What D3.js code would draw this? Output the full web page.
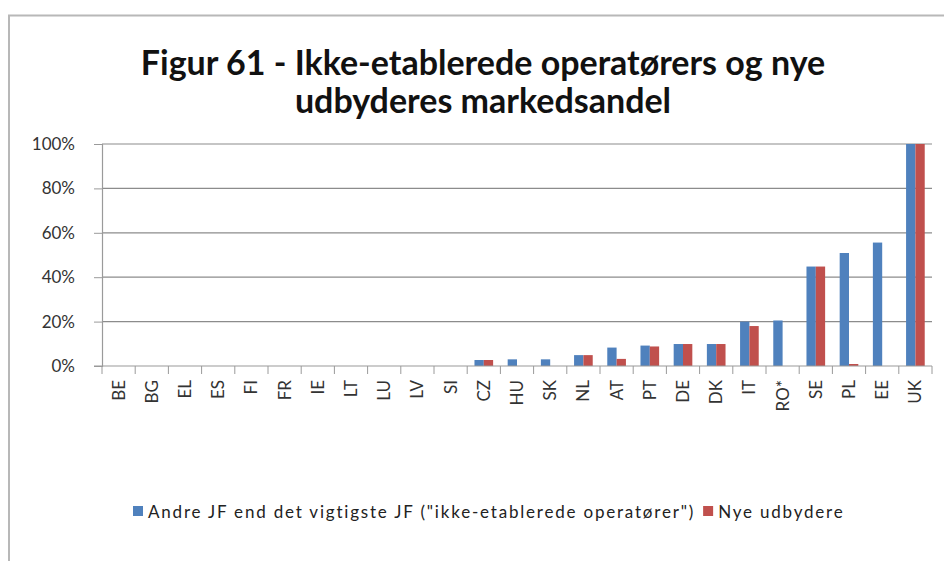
<!DOCTYPE html>
<html>
<head>
<meta charset="utf-8">
<script src="https://cdn.jsdelivr.net/npm/d3@7"></script>
<style>
  body { margin: 0; background: #fff; }
  text { font-family: Lato, "Open Sans", sans-serif; }
</style>
</head>
<body>
<div id="chart"></div>
<script>
const countries = ["BE","BG","EL","ES","FI","FR","IE","LT","LU","LV","SI","CZ","HU","SK","NL","AT","PT","DE","DK","IT","RO*","SE","PL","EE","UK"];
const andreJF = [0,0,0,0,0,0,0,0,0,0,0,2.7,3,3,4.9,8.3,9.2,9.9,9.9,20,20.5,44.8,50.9,55.6,100];
const nyeUdbydere = [0,0,0,0,0,0,0,0,0,0,0,2.7,0,0,4.9,3.2,8.8,9.9,9.9,18,0,44.8,0.9,0,100];
const seriesNames = ["Andre JF end det vigtigste JF (\"ikke-etablerede operatører\")", "Nye udbydere"];
const colors = ["#4F81BD", "#C0504D"];
const yTicks = [0, 20, 40, 60, 80, 100];
const titleLines = ["Figur 61 - Ikke-etablerede operatørers og nye", "udbyderes markedsandel"];

const width = 944, height = 561;
const margin = { top: 144, right: 12, bottom: 195, left: 102 };
const innerW = width - margin.left - margin.right;
const innerH = height - margin.top - margin.bottom;

const svg = d3.select("#chart").append("svg")
  .attr("width", width)
  .attr("height", height);

// chart frame
svg.append("path")
  .attr("d", `M9,${height + 5} V15.5 H${width + 5}`)
  .attr("fill", "none")
  .attr("stroke", "#b8b8b8")
  .attr("stroke-width", 2);

// title
svg.append("g").selectAll("text")
  .data(titleLines)
  .join("text")
    .attr("x", 483)
    .attr("y", (d, i) => 75 + i * 38)
    .attr("text-anchor", "middle")
    .attr("font-size", 34)
    .attr("font-weight", "bold")
    .attr("fill", "#111")
    .text(d => d);

const g = svg.append("g")
  .attr("transform", `translate(${margin.left}, ${margin.top})`);

const x0 = d3.scaleBand()
  .domain(countries)
  .range([0, innerW]);

const x1 = d3.scaleBand()
  .domain([0, 1])
  .range([0, x0.bandwidth()])
  .paddingOuter(0.78);

const y = d3.scaleLinear()
  .domain([0, 100])
  .range([innerH, 0]);

// gridlines
g.append("g")
  .selectAll("line")
  .data(yTicks.filter(d => d > 0))
  .join("line")
    .attr("x1", 0)
    .attr("x2", innerW)
    .attr("y1", d => y(d))
    .attr("y2", d => y(d))
    .attr("stroke", "#8c8c8c")
    .attr("stroke-width", 1.2);

// y axis
const yAxis = g.append("g")
  .call(d3.axisLeft(y).tickValues(yTicks).tickFormat(d => d + "%").tickSize(8).tickPadding(19));
yAxis.select(".domain").attr("stroke", "#9a9a9a").attr("stroke-width", 1.2);
yAxis.selectAll(".tick line").attr("stroke", "#9a9a9a");
yAxis.selectAll("text")
  .attr("font-size", 17)
  .attr("fill", "#333")
  .style("font-family", "Lato, 'Open Sans', sans-serif");

// bars
const rows = countries.map((c, i) => ({ c, vals: [andreJF[i], nyeUdbydere[i]] }));
g.append("g")
  .selectAll("g")
  .data(rows)
  .join("g")
    .attr("transform", d => `translate(${x0(d.c)},0)`)
  .selectAll("rect")
  .data(d => d.vals.map((v, k) => ({ k, v })))
  .join("rect")
    .attr("x", d => x1(d.k))
    .attr("width", x1.bandwidth())
    .attr("y", d => y(d.v))
    .attr("height", d => innerH - y(d.v))
    .attr("fill", d => colors[d.k]);

// x axis: ticks at category boundaries
const xa = g.append("g").attr("transform", `translate(0, ${innerH})`);
xa.append("line")
  .attr("x1", -8).attr("x2", innerW)
  .attr("stroke", "#9a9a9a").attr("stroke-width", 1.2);
xa.selectAll(".bt")
  .data(countries.concat(["_end"]))
  .join("line")
    .attr("class", "bt")
    .attr("x1", (d, i) => i * x0.step())
    .attr("x2", (d, i) => i * x0.step())
    .attr("y1", 0).attr("y2", 8)
    .attr("stroke", "#9a9a9a");
xa.selectAll("text")
  .data(countries)
  .join("text")
    .attr("transform", d => `translate(${x0(d) + x0.bandwidth() / 2 + 6}, 14) rotate(-90)`)
    .attr("text-anchor", "end")
    .attr("font-size", 17)
    .attr("fill", "#333")
    .text(d => d);

// legend
const legend = svg.append("g").attr("transform", "translate(133, 512)");
let lx = 0;
seriesNames.forEach((name, i) => {
  const item = legend.append("g").attr("transform", `translate(${lx},0)`);
  item.append("rect")
    .attr("x", 0).attr("y", -6)
    .attr("width", 10).attr("height", 10)
    .attr("fill", colors[i]);
  const t = item.append("text")
    .attr("x", 15).attr("y", 6)
    .attr("font-size", 17)
    .attr("letter-spacing", 1.8)
    .attr("fill", "#222")
    .text(name);
  lx += 15 + t.node().getComputedTextLength() + 8;
});
</script>
</body>
</html>
